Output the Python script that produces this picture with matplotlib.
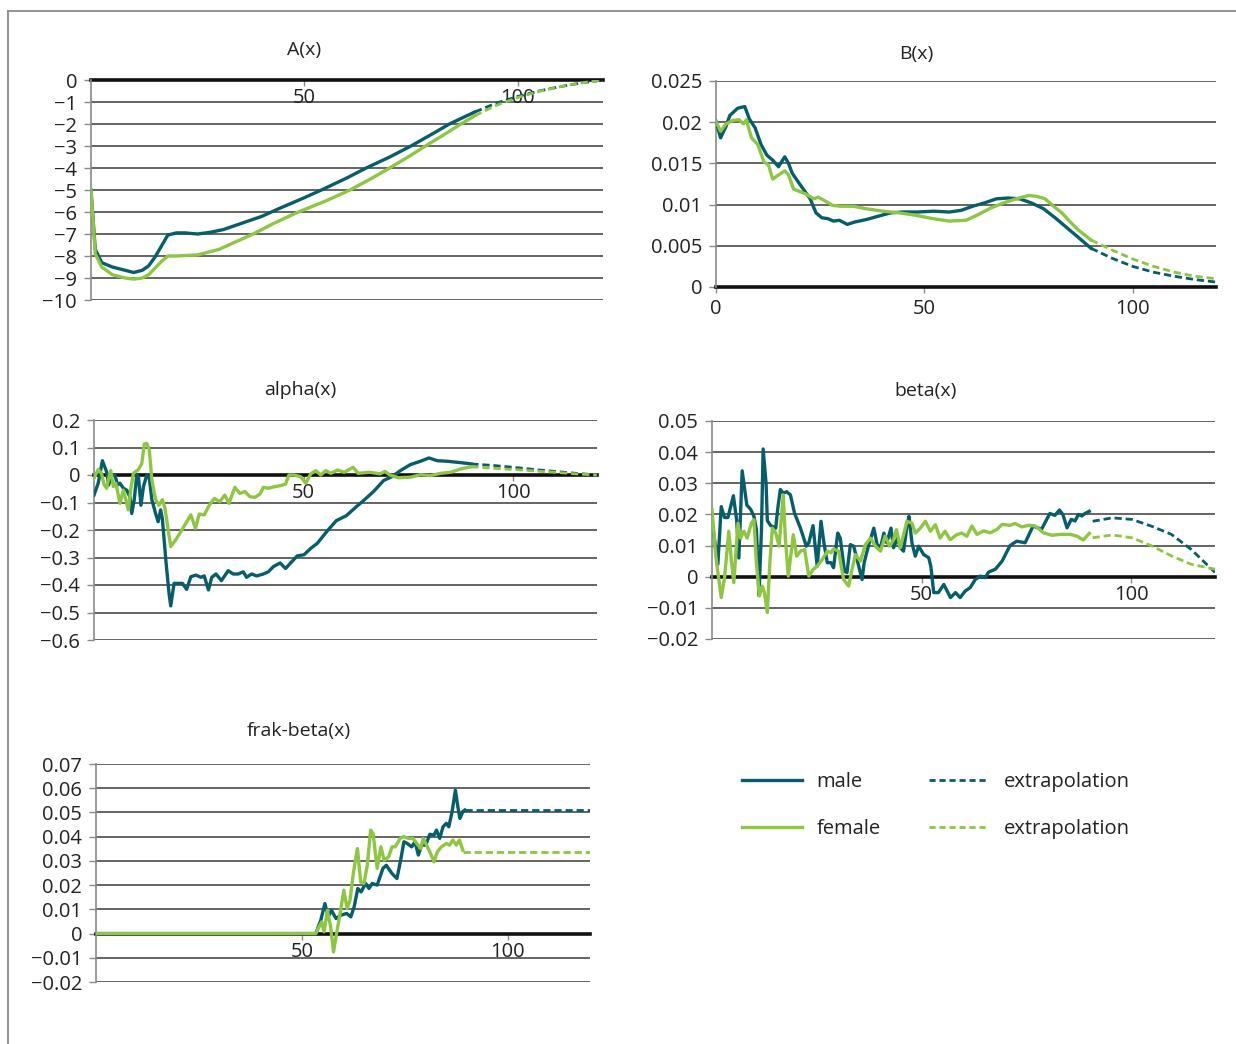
import numpy as np
import matplotlib
matplotlib.use("Agg")
import matplotlib.pyplot as plt
from matplotlib.lines import Line2D
from matplotlib.ticker import FuncFormatter

plt.rcParams['font.family'] = ['Open Sans', 'DejaVu Sans']

MALE = '#045e6c'
FEMALE = '#8dc63f'

# ---- A(x) ----
a_male = [(0, -5), (1, -7.7), (2.5, -8.3), (5, -8.5), (8, -8.65), (10, -8.75), (12, -8.65),
          (13.5, -8.45), (15, -8.05), (16.5, -7.55), (18, -7.05), (20, -6.95), (22, -6.95),
          (25, -7.0), (28, -6.92), (31, -6.8), (34, -6.6), (37, -6.4), (40, -6.2), (44, -5.85),
          (50, -5.35), (54, -5.0), (60, -4.45), (64.5, -4.0), (70, -3.5), (75, -3.0),
          (80, -2.45), (84, -2.0), (90, -1.45)]
a_female = [(0, -5), (1, -7.9), (2.5, -8.5), (5, -8.85), (8, -9.0), (10, -9.05), (12, -9.0),
            (13.5, -8.85), (15, -8.55), (16.5, -8.25), (18, -8.0), (20, -8.0), (25, -7.95),
            (30, -7.7), (34, -7.35), (38, -7.0), (43, -6.5), (48.6, -6.0), (55, -5.5),
            (60.7, -5.0), (65.5, -4.5), (70, -4.0), (74.3, -3.5), (78.4, -3.0), (82.6, -2.5),
            (86.7, -2.0), (90, -1.62)]
a_male_ext = [(90, -1.45), (95, -1.05), (100, -0.75), (105, -0.5), (110, -0.3), (115, -0.13), (120, 0)]
a_female_ext = [(90, -1.62), (95, -1.15), (100, -0.8), (105, -0.52), (110, -0.3), (115, -0.13), (120, 0)]

# ---- B(x) ----
b_male = [(0, 0.0201), (1.1, 0.0181), (2.4, 0.0195), (3.3, 0.0208), (5.2, 0.0217), (6.9, 0.0219),
          (8, 0.0204), (9.4, 0.0193), (10.8, 0.0173), (12.2, 0.016), (13.6, 0.0154), (15, 0.0146),
          (16.5, 0.0158), (17.4, 0.015), (18.3, 0.0138), (19.8, 0.0127), (21.2, 0.0117),
          (22.6, 0.0107), (24, 0.009), (25.4, 0.0084), (26.8, 0.0083), (28.2, 0.008),
          (29.6, 0.0081), (31.5, 0.0076), (33.4, 0.0079), (36.2, 0.0082), (39, 0.0086),
          (41.9, 0.009), (44.7, 0.0091), (48.4, 0.0091), (52.2, 0.0092), (56, 0.0091),
          (58.8, 0.0093), (61.6, 0.0098), (64.4, 0.0102), (67.3, 0.0107), (70.1, 0.0108),
          (72.9, 0.0107), (75.7, 0.0102), (78.6, 0.0095), (81.4, 0.0084), (84.2, 0.0072),
          (87, 0.006), (90, 0.0047)]
b_female = [(0, 0.0201), (1.1, 0.0189), (2.4, 0.0198), (4, 0.0202), (5.5, 0.0203), (6.6, 0.0198),
            (7.3, 0.0203), (8.5, 0.0181), (10, 0.0173), (11.5, 0.0152), (12.6, 0.0148),
            (13.6, 0.0131), (15, 0.0136), (16.5, 0.0141), (17.4, 0.0136), (18.6, 0.0119),
            (20, 0.0116), (21.5, 0.0113), (23.5, 0.0107), (24.5, 0.0109), (26, 0.0105),
            (28, 0.0099), (30, 0.0098), (33, 0.0098), (36, 0.0095), (40, 0.0092), (44, 0.009),
            (48, 0.0087), (52, 0.0083), (56, 0.008), (60, 0.0081), (63, 0.0088), (66, 0.0096),
            (69, 0.0102), (72, 0.0107), (75, 0.0111), (77, 0.011), (79, 0.0107), (81, 0.0098),
            (83, 0.009), (85, 0.0079), (87, 0.0069), (90, 0.0057)]
b_male_ext = [(90, 0.0047), (95, 0.0035), (100, 0.0025), (105, 0.0018), (110, 0.0013), (115, 0.0009), (120, 0.0006)]
b_female_ext = [(90, 0.0057), (95, 0.0045), (100, 0.0034), (105, 0.0025), (110, 0.0018), (115, 0.0013), (120, 0.001)]

# ---- alpha(x) ----
alpha_male = [(0, -0.073), (1, -0.03), (2, 0.052), (3, 0.012), (3.5, -0.036), (4.2, 0), (5, 0),
              (5.6, -0.036), (6.2, -0.03), (7, -0.048), (7.8, -0.055), (8.6, -0.08), (9, -0.14),
              (9.6, -0.09), (10.2, 0), (10.6, -0.006), (11.2, -0.11), (11.8, -0.042), (12.6, 0),
              (13.2, -0.012), (13.8, -0.09), (14.7, -0.14), (15.3, -0.17), (15.9, -0.127),
              (16.3, -0.158), (17.2, -0.32), (17.9, -0.43), (18.3, -0.476), (19.1, -0.394),
              (19.9, -0.394), (21.1, -0.394), (22.1, -0.416), (23.1, -0.37), (24.3, -0.364),
              (25.5, -0.372), (26.3, -0.367), (27.3, -0.418), (28.1, -0.372), (29.1, -0.36),
              (30.4, -0.384), (32, -0.348), (33.2, -0.36), (34.4, -0.36), (35.6, -0.352),
              (36.4, -0.372), (37.6, -0.36), (38.8, -0.367), (40.4, -0.36), (41.6, -0.352),
              (42.8, -0.333), (44.4, -0.32), (45.7, -0.34), (46.9, -0.32), (48.5, -0.294),
              (50.1, -0.29), (51.7, -0.267), (53.3, -0.248), (55.4, -0.208), (57.8, -0.166),
              (60.2, -0.148), (62.6, -0.115), (64.3, -0.093), (66.7, -0.06), (69.1, -0.02),
              (71.1, -0.006), (73.1, 0.016), (75.5, 0.038), (77.9, 0.05), (79.9, 0.062),
              (81.9, 0.052), (84.3, 0.05), (86.8, 0.046), (89.2, 0.042), (90, 0.04)]
alpha_female = [(0, -0.012), (1, 0.02), (1.8, 0.006), (2.4, -0.036), (3, -0.048), (3.5, -0.012),
                (4, 0.016), (4.6, -0.042), (5.2, -0.03), (6.2, -0.103), (7, -0.055), (7.6, -0.09),
                (8.2, -0.127), (8.8, -0.048), (9.4, 0.006), (10.6, 0.02), (11.4, 0.042),
                (12, 0.113), (12.6, 0.115), (13.2, 0.09), (13.8, -0.018), (14.7, -0.09),
                (15.5, -0.11), (16.3, -0.09), (16.9, -0.118), (18.3, -0.26), (19.5, -0.236),
                (20.7, -0.206), (21.9, -0.176), (23.1, -0.145), (24.2, -0.194), (25.1, -0.142),
                (26.3, -0.145), (27.5, -0.11), (28.7, -0.085), (30, -0.097), (31.2, -0.073),
                (32.2, -0.103), (33.6, -0.045), (34.8, -0.067), (36, -0.06), (37.2, -0.079),
                (38.4, -0.081), (39.6, -0.069), (40.4, -0.045), (41.6, -0.048), (43.2, -0.042),
                (44.4, -0.039), (45.7, -0.033), (46.5, 0), (47.7, 0), (49.3, -0.006),
                (50.5, -0.03), (51.7, 0.004), (52.9, 0.016), (54.1, 0), (55.3, 0.016),
                (56.5, 0.006), (58.1, 0.018), (59.7, 0.01), (61.8, 0.028), (63, 0.006),
                (65.8, 0.01), (68.2, 0.004), (69.4, 0.013), (70.6, 0), (72.6, -0.01),
                (75.5, -0.008), (77.9, 0.001), (80.3, -0.002), (82.7, 0.006), (85.1, 0.01),
                (87.5, 0.022), (90, 0.03)]
alpha_male_ext = [(90, 0.04), (95, 0.035), (100, 0.028), (105, 0.02), (110, 0.013), (115, 0.006), (120, 0)]
alpha_female_ext = [(90, 0.03), (95, 0.025), (100, 0.02), (105, 0.015), (110, 0.01), (115, 0.004), (120, 0)]

# ---- beta(x) ----
beta_male = [(0, 0.018), (1.4, 0.004), (2.2, 0.0225), (3, 0.019), (3.8, 0.019), (5.1, 0.026),
             (5.9, 0.018), (6.4, 0.006), (7.2, 0.034), (8.3, 0.023), (9.2, 0.0217), (10, 0.0194),
             (10.6, 0.015), (11.2, -0.006), (11.8, 0.015), (12.2, 0.041), (12.9, 0.03),
             (13.2, 0.018), (14, 0.0164), (15.2, 0.0156), (15.7, 0.022), (16.3, 0.028),
             (17, 0.0268), (17.8, 0.0273), (18.7, 0.0263), (19.7, 0.0204), (21.1, 0.0156),
             (22.5, 0.0098), (23.1, 0.0109), (24.1, 0.0164), (25.1, 0.0034), (26, 0.0178),
             (26.7, 0.0109), (27.5, 0.0045), (28.4, 0.0045), (29, 0.0029), (30, 0.014),
             (30.6, 0.0124), (31.6, 0.0018), (32.2, 0.0013), (33, 0.0103), (33.8, 0.0098),
             (35, 0.0034), (35.8, -0.0009), (36.3, 0.0045), (37.4, 0.0103), (38.6, 0.0156),
             (39.4, 0.0103), (40.2, 0.0093), (41, 0.014), (41.7, 0.0109), (42.7, 0.0156),
             (43.3, 0.0093), (44.3, 0.0124), (44.9, 0.0093), (45.7, 0.0082), (46.5, 0.0162),
             (47, 0.0194), (47.7, 0.0109), (48.5, 0.0066), (49.3, 0.0098), (50.5, 0.0071),
             (51.7, 0.0061), (52.2, 0.0034), (52.9, -0.0051), (54, -0.0051), (55.3, -0.0025),
             (56.9, -0.0067), (58.1, -0.0051), (59.2, -0.0067), (60.4, -0.0046),
             (61.6, -0.0035), (62.8, -0.0009), (64, 0.0002), (65.2, -0.0003), (66, 0.0015),
             (67.6, 0.0024), (69.2, 0.005), (71.1, 0.01), (72.7, 0.0114), (74.7, 0.0109),
             (76.6, 0.0163), (78.6, 0.0152), (80.6, 0.0203), (81.8, 0.0197), (82.9, 0.0214),
             (83.7, 0.02), (84.7, 0.0157), (85.7, 0.0184), (86.6, 0.0179), (87.4, 0.02),
             (88.2, 0.0195), (89, 0.0203), (90, 0.021)]
beta_female = [(0, 0.0215), (0.9, 0.0066), (2.2, -0.0067), (3, -0.0003), (4, 0.0146),
               (4.6, 0.0055), (5.2, -0.0019), (6.2, 0.0172), (6.8, 0.0124), (7.6, 0.0146),
               (8.4, 0.0124), (9.4, 0.0172), (10, 0.0183), (10.6, 0.0045), (11.3, -0.0062),
               (12, -0.003), (12.5, -0.0051), (13.2, -0.0115), (13.8, 0.0045), (14.4, 0.0156),
               (15.2, 0.014), (16, 0.0098), (17, 0.0263), (17.5, 0.0124), (18.2, 0.0002),
               (19.4, 0.0135), (20.2, 0.0066), (21.1, 0.0082), (22.1, 0.0087), (23.1, 0.0002),
               (24.1, 0.0023), (25.1, 0.0034), (26.3, 0.0055), (27.5, 0.0082), (28.4, 0.0077),
               (29, 0.0089), (30.2, 0.0082), (31.4, -0.0009), (32.6, -0.003), (33.4, 0.0023),
               (34.2, 0.0071), (35.4, 0.005), (36.6, 0.0103), (37.8, 0.0124), (39, 0.0098),
               (40.2, 0.0082), (41.3, 0.013), (42.4, 0.0098), (43.3, 0.0119), (44, 0.0151),
               (44.9, 0.0093), (45.7, 0.0135), (46.5, 0.0178), (47.7, 0.0172), (48.5, 0.014),
               (49.7, 0.0156), (50.9, 0.0178), (52.1, 0.0146), (53.3, 0.0167), (54.4, 0.0124),
               (55.6, 0.0146), (56.8, 0.0119), (58.4, 0.0135), (59.6, 0.014), (60.8, 0.013),
               (62, 0.0163), (63.2, 0.0136), (64.8, 0.0147), (66.4, 0.0141), (68, 0.0152),
               (69.2, 0.0168), (71.1, 0.0165), (72.3, 0.0171), (73.9, 0.016), (75.5, 0.0165),
               (77.1, 0.0163), (79.1, 0.0141), (81.1, 0.0133), (83.1, 0.0136), (85.5, 0.0136),
               (87.1, 0.013), (88.6, 0.0118), (90, 0.0139)]
beta_male_ext = [(90.8, 0.0178), (95.5, 0.0189), (100.2, 0.0184), (104.9, 0.0162),
                 (109.6, 0.0136), (114.3, 0.0088), (120, 0.0014)]
beta_female_ext = [(90.8, 0.0125), (95.5, 0.0134), (100.2, 0.0125), (104.9, 0.0099),
                   (109.6, 0.0067), (114.3, 0.004), (120, 0.0024)]

# ---- frak-beta(x) ----
frak_male = [(0, 0), (53.4, 0), (54.6, 0.0055), (55.6, 0.0124), (56.4, 0.0069), (57.2, 0.0096),
             (58.3, 0.0062), (59.5, 0.0076), (60.9, 0.0083), (61.9, 0.0069), (62.7, 0.011),
             (63.6, 0.0186), (64.4, 0.0172), (65.5, 0.0207), (66.3, 0.0186), (67.1, 0.0207),
             (68.3, 0.02), (69.7, 0.0269), (70.5, 0.0282), (71.9, 0.0248), (73.1, 0.0227),
             (74, 0.0303), (74.8, 0.0379), (75.6, 0.0372), (76.7, 0.0358), (77.5, 0.0379),
             (78.3, 0.0324), (79.1, 0.0365), (80.1, 0.0365), (81.1, 0.041), (82.1, 0.0406),
             (82.7, 0.0427), (83.5, 0.0393), (84.3, 0.0441), (85.1, 0.0455), (85.7, 0.0441),
             (86.5, 0.0503), (87.3, 0.0592), (87.9, 0.0523), (88.4, 0.0475), (89.1, 0.0503),
             (89.6, 0.051)]
frak_female = [(0, 0), (53.4, 0), (54.2, 0.0028), (54.8, 0.0048), (55.4, 0.0007), (56.2, 0.0096),
               (57, 0.0028), (57.7, -0.0076), (58.5, 0.0007), (59.3, 0.0083), (60.2, 0.0179),
               (61, 0.0103), (61.7, 0.0138), (62.5, 0.0248), (63.5, 0.0351), (64.3, 0.0213),
               (65.1, 0.0207), (65.9, 0.0282), (66.7, 0.0427), (67.3, 0.0413), (68.3, 0.0269),
               (69.2, 0.0358), (70, 0.0303), (71.1, 0.0317), (71.9, 0.0358), (72.7, 0.0358),
               (73.9, 0.0393), (74.7, 0.04), (75.9, 0.0393), (77, 0.0393), (77.9, 0.0372),
               (78.9, 0.0351), (79.5, 0.0393), (80.5, 0.0358), (81.1, 0.0337), (82.1, 0.0296),
               (82.9, 0.0337), (83.9, 0.0358), (85.1, 0.0372), (85.9, 0.0365), (86.7, 0.0386),
               (87.5, 0.0365), (88.3, 0.0386), (89.1, 0.0344)]
frak_male_ext = [(89.6, 0.051), (120, 0.051)]
frak_female_ext = [(89.1, 0.0337), (120, 0.0337)]


def fmt(v, pos):
    s = '%g' % round(v, 4)
    return s.replace('-', '\u2212')


def setup(ax, title, title_x, yticks, xticks):
    ax.set_xlim(0, 120)
    ax.set_ylim(yticks[0], yticks[-1])
    ax.set_yticks(yticks)
    ax.yaxis.set_major_formatter(FuncFormatter(fmt))
    ax.set_xticks(xticks)
    ax.set_xticklabels([str(t) for t in xticks])
    ax.spines['top'].set_visible(False)
    ax.spines['right'].set_visible(False)
    ax.spines['left'].set_color('#8a8a8a')
    ax.spines['left'].set_linewidth(1.2)
    ax.spines['bottom'].set_position(('data', 0))
    ax.spines['bottom'].set_color('#111111')
    ax.spines['bottom'].set_linewidth(2.6)
    ax.spines['bottom'].set_zorder(2)
    ax.tick_params(axis='y', length=5, width=1, color='#8a8a8a', pad=5,
                   labelsize=14.5, labelcolor='#222222')
    ax.tick_params(axis='x', length=4, width=1, color='#8a8a8a', pad=2,
                   labelsize=14.5, labelcolor='#222222')
    for y in yticks:
        if abs(y) > 1e-12:
            ax.axhline(y, color='#4a4a4a', lw=1.2, zorder=1)
    ax.set_title(title, x=title_x, fontsize=14, color='#222222', pad=18)


def draw(ax, male, female, male_ext, female_ext):
    for data, ext, col in ((male, male_ext, MALE), (female, female_ext, FEMALE)):
        x, y = np.array(data).T
        ax.plot(x, y, color=col, lw=2.4, zorder=3, solid_joinstyle='round')
        xe, ye = np.array(ext).T
        ax.plot(xe, ye, color=col, lw=2.0, zorder=3, dashes=(2.6, 1.4))


W, H = 1236, 1044
fig = plt.figure(figsize=(W / 100, H / 100), dpi=100)


def box(l, r, t, b):
    return [l / W, 1 - b / H, (r - l) / W, (b - t) / H]


ax_a = fig.add_axes(box(91, 603, 80, 300))
setup(ax_a, 'A(x)', 0.416, list(range(-10, 1)), [50, 100])
draw(ax_a, a_male, a_female, a_male_ext, a_female_ext)

ax_b = fig.add_axes(box(716, 1216, 81, 287))
setup(ax_b, 'B(x)', 0.40, [0, 0.005, 0.01, 0.015, 0.02, 0.025], [0, 50, 100])
ax_b.tick_params(axis='x', pad=5)
ax_b.set_title('B(x)', x=0.40, fontsize=14, color='#222222', pad=16)
draw(ax_b, b_male, b_female, b_male_ext, b_female_ext)

ax_al = fig.add_axes(box(94, 597, 420, 640))
setup(ax_al, 'alpha(x)', 0.41, [-0.6, -0.5, -0.4, -0.3, -0.2, -0.1, 0, 0.1, 0.2], [50, 100])
draw(ax_al, alpha_male, alpha_female, alpha_male_ext, alpha_female_ext)

ax_be = fig.add_axes(box(712, 1215, 421, 639))
setup(ax_be, 'beta(x)', 0.424, [-0.02, -0.01, 0, 0.01, 0.02, 0.03, 0.04, 0.05], [50, 100])
draw(ax_be, beta_male, beta_female, beta_male_ext, beta_female_ext)

ax_fb = fig.add_axes(box(96, 590, 764, 982))
setup(ax_fb, 'frak-beta(x)', 0.41, [-0.02, -0.01, 0, 0.01, 0.02, 0.03, 0.04, 0.05, 0.06, 0.07], [50, 100])
ax_fb.set_title('frak-beta(x)', x=0.41, fontsize=14, color='#222222', pad=20)
draw(ax_fb, frak_male, frak_female, frak_male_ext, frak_female_ext)

# legend
handles = [Line2D([], [], color=MALE, lw=2.4),
           Line2D([], [], color=FEMALE, lw=2.4),
           Line2D([], [], color=MALE, lw=2.0, dashes=(2.2, 1.4)),
           Line2D([], [], color=FEMALE, lw=2.0, dashes=(2.2, 1.4))]
labels = ['male', 'female', 'extrapolation', 'extrapolation']
leg = fig.legend(handles, labels, ncol=2, loc='upper left',
                 bbox_to_anchor=(742 / W, 1 - 772 / H), frameon=False,
                 fontsize=14.5, handlelength=3.0, handletextpad=0.7,
                 columnspacing=2.4, labelspacing=1.35, borderpad=0, borderaxespad=0)
for t in leg.get_texts():
    t.set_color('#222222')

# outer frame
fig.add_artist(Line2D([8 / W, 1], [1 - 11 / H, 1 - 11 / H], color='#8a8a8a', lw=1.3))
fig.add_artist(Line2D([8 / W, 8 / W], [0, 1 - 11 / H], color='#8a8a8a', lw=1.3))

fig.savefig('out.png', dpi=100)
